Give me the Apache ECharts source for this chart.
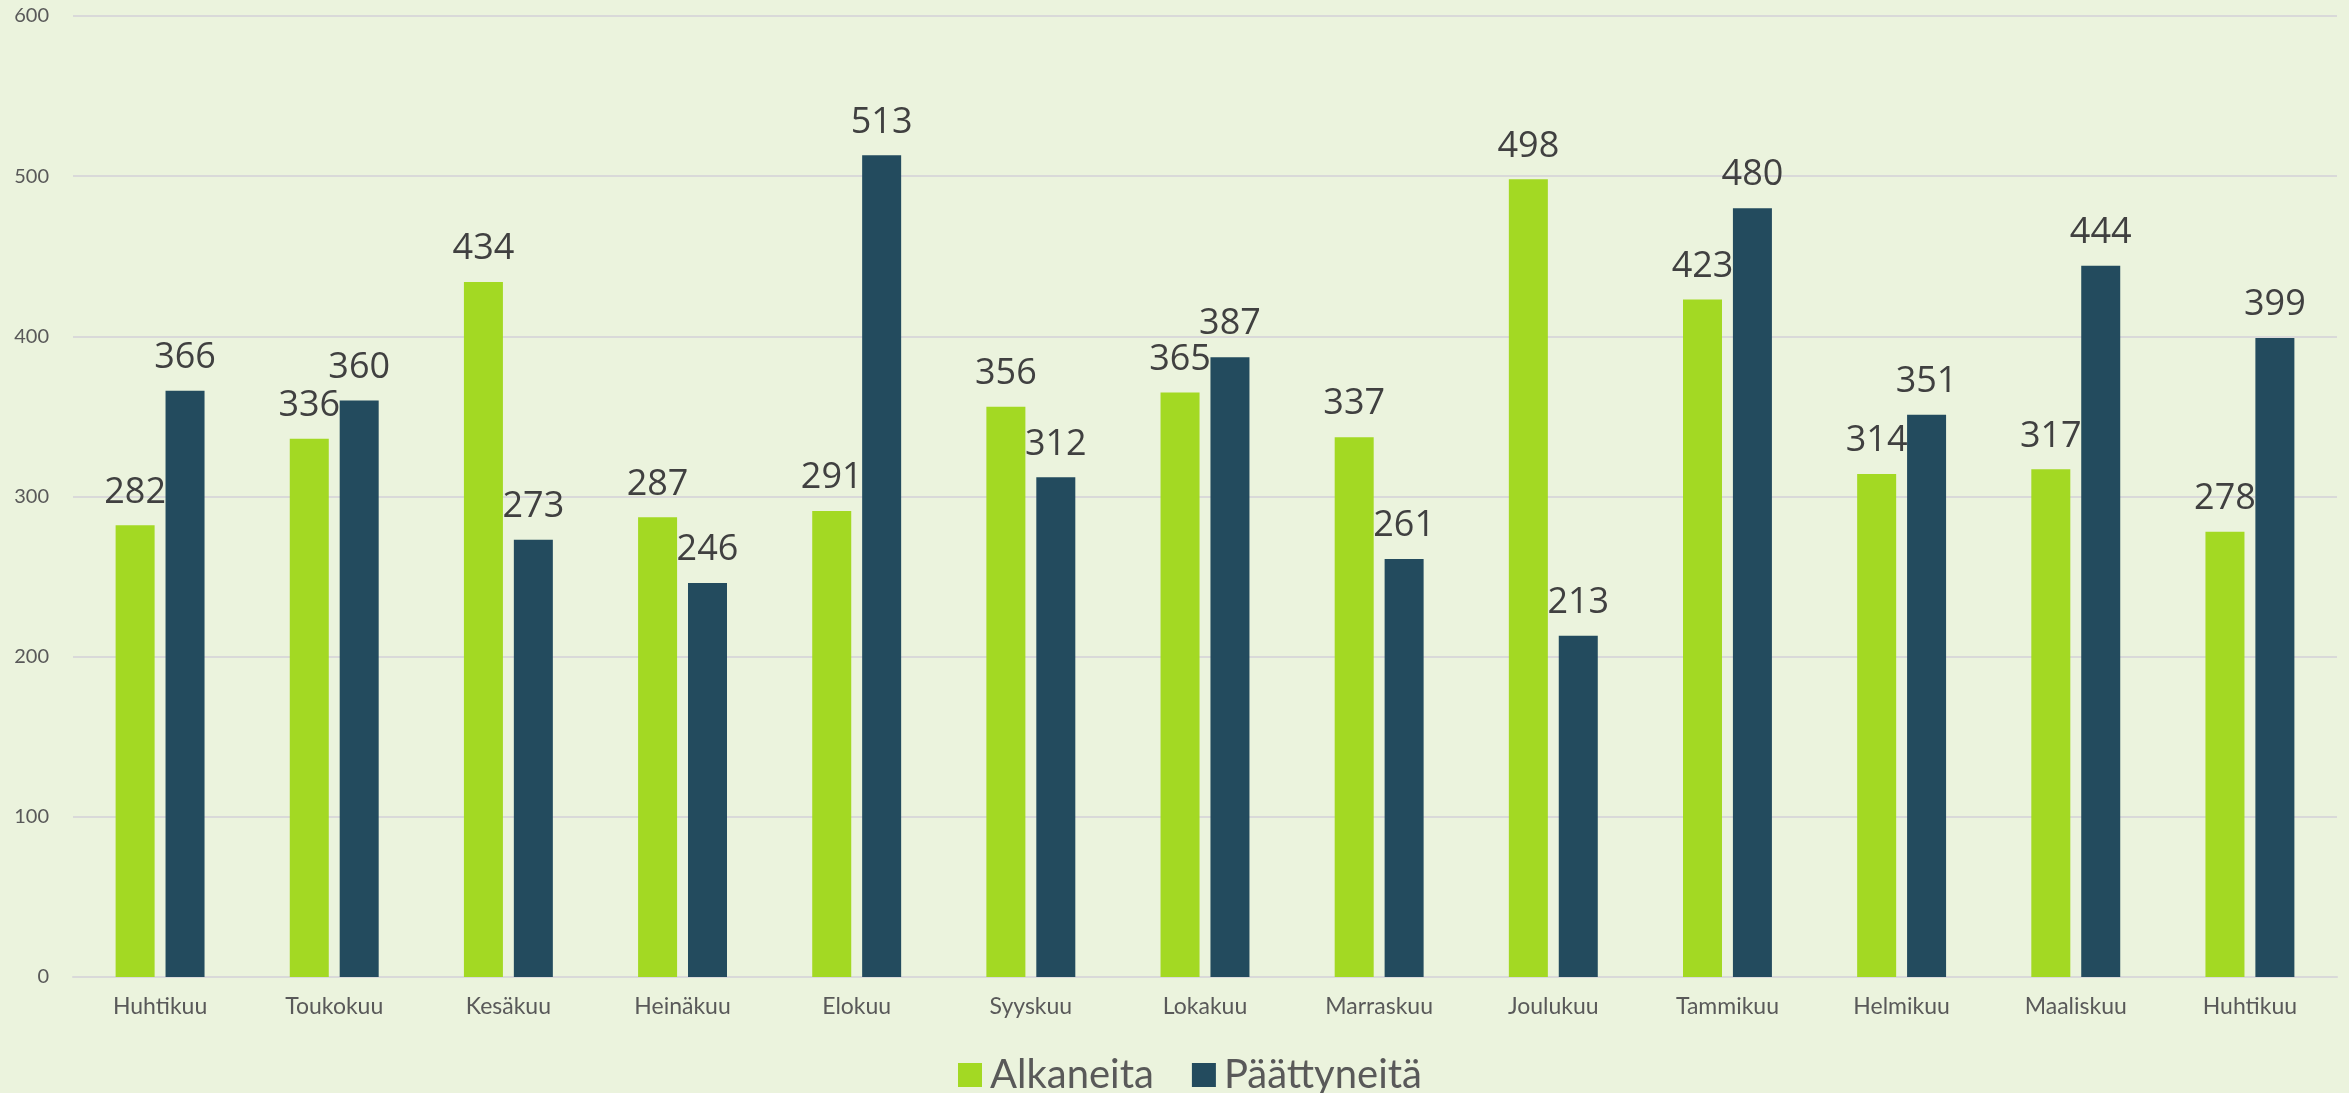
<!DOCTYPE html>
<html>
<head>
<meta charset="utf-8">
<script src="https://cdn.jsdelivr.net/npm/echarts@6/dist/echarts.min.js"></script>
<style>
  html, body { margin: 0; padding: 0; background: #ebf3dd; }
  #chart { width: 2349px; height: 1093px; }
</style>
</head>
<body>
<div id="chart"></div>
<script>
// kuukaudet (sama nimi voi toistua)
var months = ['Huhtikuu', 'Toukokuu', 'Kesäkuu', 'Heinäkuu', 'Elokuu', 'Syyskuu', 'Lokakuu',
  'Marraskuu', 'Joulukuu', 'Tammikuu', 'Helmikuu', 'Maaliskuu', 'Huhtikuu']
var alkaneita = [282, 336, 434, 287, 291, 356, 365, 337, 498, 423, 314, 317, 278]
var paattyneita = [366, 360, 273, 246, 513, 312, 387, 261, 213, 480, 351, 444, 399]
var yTicks = [0, 100, 200, 300, 400, 500, 600]

var chart = echarts.init(document.getElementById('chart'))

var labelStyle = {
  show: true,
  position: 'top',
  distance: 15,
  color: '#404040',
  fontSize: 36,
  fontFamily: 'Open Sans'
}

var opt = {
  backgroundColor: '#ebf3dd',
  animation: false,
  grid: {
    left: 73,
    right: 12,
    top: 16,
    bottom: 116
  },
  legend: {
    top: 1050,
    left: 953,
    itemWidth: 24,
    itemHeight: 24,
    itemGap: 38,
    icon: 'rect',
    textStyle: {
      color: '#595959',
      fontSize: 40,
      fontFamily: 'Lato',
      padding: [0, 0, 0, 3]
    },
    data: ['Alkaneita', 'Päättyneitä']
  },
  xAxis: {
    type: 'category',
    data: months,
    axisTick: { show: false },
    axisLine: { lineStyle: { color: '#d9d9d9', width: 2 } },
    axisLabel: {
      color: '#595959',
      fontSize: 23,
      fontFamily: 'Lato',
      margin: 18,
      interval: 0
    }
  },
  yAxis: {
    type: 'value',
    min: yTicks[0],
    max: yTicks[yTicks.length - 1],
    interval: 100,
    axisLine: { show: false },
    axisTick: { show: false },
    axisLabel: {
      color: '#595959',
      fontSize: 20,
      fontFamily: 'Lato',
      margin: 24
    },
    splitLine: { lineStyle: { color: '#d9d9d9', width: 2 } }
  },
  series: [{
    name: 'Alkaneita',
    type: 'bar',
    data: alkaneita,
    barWidth: 39,
    barGap: '28%',
    itemStyle: { color: '#a3d923' },
    label: labelStyle
  }, {
    name: 'Päättyneitä',
    type: 'bar',
    data: paattyneita,
    barWidth: 39,
    itemStyle: { color: '#234b5e' },
    label: labelStyle
  }]
}

chart.setOption(opt)
</script>
</body>
</html>
